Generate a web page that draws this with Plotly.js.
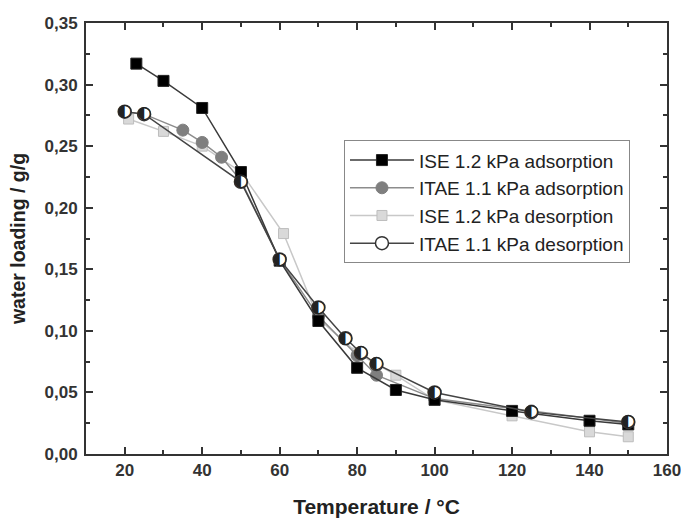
<!DOCTYPE html>
<html><head><meta charset="utf-8">
<script src="https://cdn.plot.ly/plotly-3.0.1.min.js"></script>
<style>body{margin:0;background:#fff}#c{width:681px;height:518px}</style>
</head><body><div id="c"></div>
<script>
const iseAdsT = [23, 30, 40, 50, 60, 70, 80, 90, 100, 120, 140, 150];
const iseAdsW = [0.317, 0.303, 0.281, 0.229, 0.157, 0.108, 0.070, 0.052, 0.044, 0.035, 0.027, 0.024];
const itaeAdsT = [20, 25, 35, 40, 45, 50, 60, 70, 80, 85, 100, 125, 150];
const itaeAdsW = [0.278, 0.276, 0.263, 0.253, 0.241, 0.222, 0.158, 0.112, 0.080, 0.064, 0.045, 0.035, 0.025];
const iseDesT = [21, 30, 40, 50, 61, 70, 80, 90, 100, 120, 140, 150];
const iseDesW = [0.272, 0.262, 0.250, 0.229, 0.179, 0.110, 0.082, 0.064, 0.044, 0.031, 0.018, 0.014];
const itaeDesT = [20, 25, 50, 60, 70, 77, 81, 85, 100, 125, 150];
const itaeDesW = [0.278, 0.276, 0.221, 0.158, 0.119, 0.094, 0.082, 0.073, 0.050, 0.034, 0.026];
const names = ['ISE 1.2 kPa adsorption', 'ITAE 1.1 kPa adsorption', 'ISE 1.2 kPa desorption', 'ITAE 1.1 kPa desorption'];

const FONT = 'Liberation Sans, Arial, sans-serif';
const traces = [
  {x: iseDesT, y: iseDesW, name: names[2], mode: 'lines+markers', legendrank: 3,
   line: {color: '#c8c8c8', width: 1.5},
   marker: {symbol: 'square', size: 10, color: '#d9d9d9', line: {color: '#bdbdbd', width: 1}}},
  {x: itaeAdsT, y: itaeAdsW, name: names[1], mode: 'lines+markers', legendrank: 2,
   line: {color: '#8c8c8c', width: 1.5},
   marker: {symbol: 'circle', size: 12, color: '#7f7f7f', line: {color: '#7f7f7f', width: 1}}},
  {x: iseAdsT, y: iseAdsW, name: names[0], mode: 'lines+markers', legendrank: 1,
   line: {color: '#3a3a3a', width: 1.5},
   marker: {symbol: 'square', size: 11, color: '#000', line: {color: '#222', width: 1}}},
  {x: itaeDesT, y: itaeDesW, name: names[3], mode: 'lines+markers', legendrank: 4,
   line: {color: '#444', width: 1.5},
   marker: {symbol: 'circle', size: 13, color: '#fff', line: {color: '#333', width: 1.5}}},
  {x: itaeDesT, y: itaeDesW, mode: 'text', text: itaeDesT.map(() => '\u25D0'), showlegend: false,
   textposition: 'middle center', textfont: {family: 'DejaVu Sans', size: 17, color: '#222'}, hoverinfo: 'skip'}
];

const axisCommon = {
  showgrid: false, zeroline: false, showline: true, linecolor: '#333', linewidth: 2,
  mirror: 'ticks', ticks: 'inside', ticklen: 7, tickwidth: 2, tickcolor: '#333',
  ticklabeloverflow: 'allow',
  tickfont: {family: FONT, size: 17, color: '#333', weight: 'bold'}
};

const layout = {
  width: 681, height: 518,
  margin: {l: 86, r: 14, t: 23, b: 64},
  paper_bgcolor: '#fff', plot_bgcolor: '#fff',
  separators: ', ',
  showlegend: true,
  legend: {x: 0.444, y: 0.728, xanchor: 'left', yanchor: 'top', bgcolor: '#fff',
    bordercolor: '#888', borderwidth: 1, traceorder: 'normal', itemwidth: 64,
    font: {family: FONT, size: 19, color: '#222'}},
  xaxis: Object.assign({}, axisCommon, {
    range: [10, 160], dtick: 20, tick0: 0,
    minor: {dtick: 10, ticks: 'inside', ticklen: 4, tickwidth: 2, tickcolor: '#333'},
    title: {text: 'Temperature / °C', standoff: 20,
      font: {family: FONT, size: 21, color: '#222', weight: 'bold'}}
  }),
  yaxis: Object.assign({}, axisCommon, {
    range: [0, 0.35], dtick: 0.05, tick0: 0, tickformat: '.2f', ticklabelstandoff: 3,
    minor: {dtick: 0.025, ticks: 'inside', ticklen: 4, tickwidth: 2, tickcolor: '#333'},
    title: {text: 'water loading / g/g', standoff: 14,
      font: {family: FONT, size: 19.5, color: '#222', weight: 'bold'}}
  })
};

Plotly.newPlot('c', traces, layout, {displayModeBar: false, staticPlot: true});
</script>
</body></html>
